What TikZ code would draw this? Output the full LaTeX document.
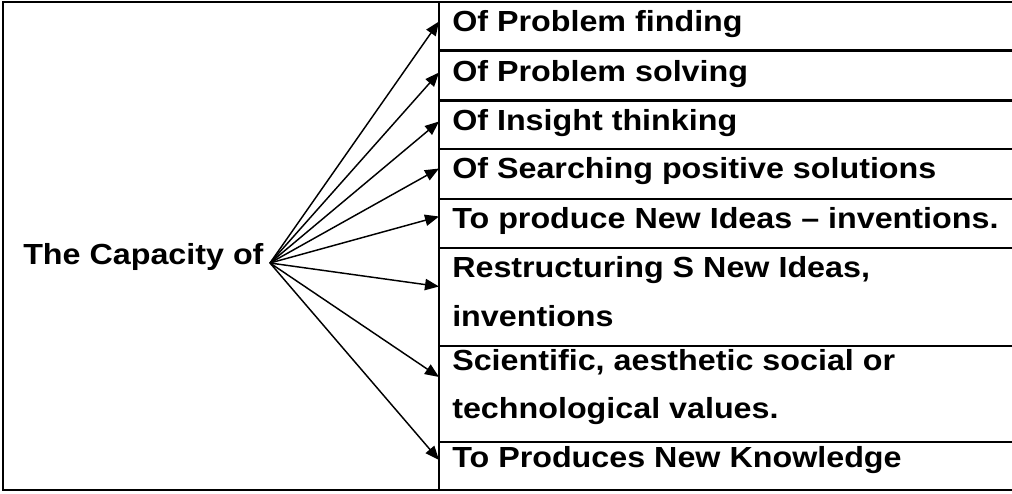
\documentclass[tikz,border=0pt]{standalone}
\usepackage{fontspec}
\setmainfont{Liberation Sans}[FakeStretch=1.11]
\usetikzlibrary{
    arrows.meta,
    positioning
}
\tikzset{
  item/.style = {anchor=base west, inner sep=0pt,
                 font=\bfseries\fontsize{21.8}{26}\selectfont},
  rule/.style = {line width=1.8pt},
  arr/.style  = {-{Triangle[length=10.5pt, width=8.5pt]}, line width=1.1pt}
}

\begin{document}
\begin{tikzpicture}[x=0.75pt, y=-0.75pt]
    \useasboundingbox (0,0) rectangle (1012,493);
    % table frame
    \draw[rule] (1012,2) -- (3,2) -- (3,490) -- (1012,490);
    \draw[rule] (439,2) -- (439,490);
    \foreach \y in {50.5, 100.5, 149, 199, 248, 346, 442}
      \draw[rule] (439,\y) -- (1012,\y);

    % left cell
    \node[item](cap) at (23,264) {The Capacity of};
    \coordinate (hub) at (270,263);

    % right column
    \node[item](r1) at (452,31)    {Of Problem finding};
    \node[item](r2) at (452,81)    {Of Problem solving};
    \node[item](r3) at (452,130)   {Of Insight thinking};
    \node[item](r4) at (452,178.5) {Of Searching positive solutions};
    \node[item](r5) at (452,228)   {To produce New Ideas -- inventions.};
    \node[item](r6) at (452,277.5) {Restructuring S New Ideas,};
    \node[item](r6b) at (452,326)  {inventions};
    \node[item](r7) at (452,370.5) {Scientific, aesthetic social or};
    \node[item](r7b) at (452,418.5){technological values.};
    \node[item](r8) at (452,467.5) {To Produces New Knowledge};

    % arrow ends
    \coordinate (t1) at (439,21.5);
    \coordinate (t2) at (439,72.5);
    \coordinate (t3) at (439,121.5);
    \coordinate (t4) at (439,168.5);
    \coordinate (t5) at (439,216.5);
    \coordinate (t6) at (439,286.5);
    \coordinate (t7) at (439,377);
    \coordinate (t8) at (439,460);

    \foreach \t in {t1,t2,t3,t4,t5,t6,t7,t8}
      \draw[arr] (hub) -- (\t);
\end{tikzpicture}
\end{document}
